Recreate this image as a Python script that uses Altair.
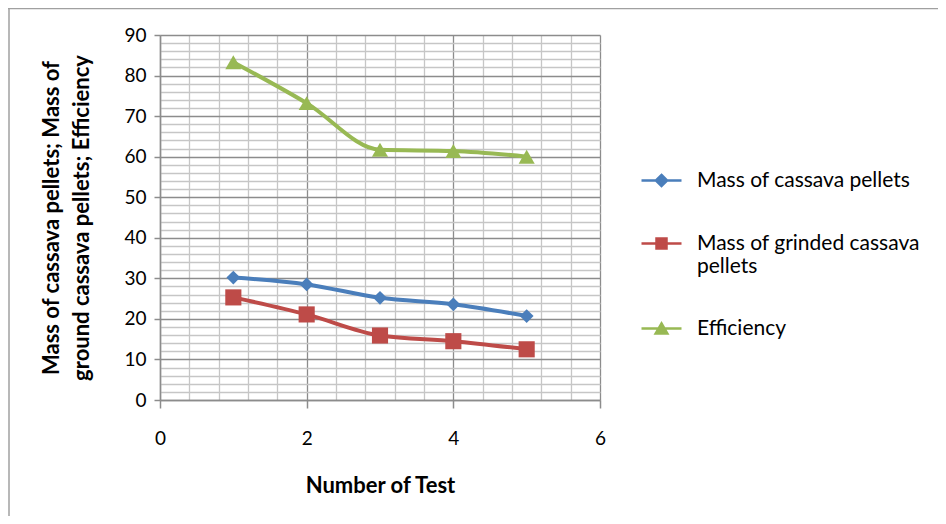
import altair as alt
import pandas as pd

# ---- data ----
tests = [1, 2, 3, 4, 5]
mass_pellets = [30.2, 28.5, 25.2, 23.6, 20.7]
mass_grinded = [25.3, 21.1, 15.9, 14.5, 12.5]
efficiency = [83.3, 73.2, 61.7, 61.4, 60.0]

series_names = ["Mass of cassava pellets", "Mass of grinded cassava pellets", "Efficiency"]
series_colors = ["#4A7EBB", "#BE4B48", "#98B954"]
marker_shapes = ["diamond", "square", "triangle-up"]
marker_sizes = [190, 260, 260]

x_ticks = [0, 0.4, 0.8, 1.2, 1.6, 2, 2.4, 2.8, 3.2, 3.6, 4, 4.4, 4.8, 5.2, 5.6, 6]
y_ticks = [0, 2, 4, 6, 8, 10, 12, 14, 16, 18, 20, 22, 24, 26, 28, 30, 32, 34, 36, 38,
           40, 42, 44, 46, 48, 50, 52, 54, 56, 58, 60, 62, 64, 66, 68, 70, 72, 74, 76,
           78, 80, 82, 84, 86, 88, 90]

# legend symbols: a line with the series marker on it
legend_paths = [
    "M-1,0H1M0,-0.28L0.28,0L0,0.28L-0.28,0Z",
    "M-1,0H1M-0.25,-0.25H0.25V0.25H-0.25Z",
    "M-1,0H1M0,-0.25L0.29,0.25H-0.29Z",
]

rows = []
for name, vals in zip(series_names, [mass_pellets, mass_grinded, efficiency]):
    for t, v in zip(tests, vals):
        rows.append({"test": t, "value": v, "series": name})
df = pd.DataFrame(rows)

FONT = "Lato"
MAJOR = "#8c8c8c"
MINOR = "#c6c6c6"
LABEL_EXPR = ("datum.label == 'Mass of grinded cassava pellets' ? "
              "['Mass of grinded  cassava', 'pellets'] : datum.label")

x_enc = alt.X(
    "test:Q",
    scale=alt.Scale(domain=[0, 6], nice=False, zero=False),
    axis=alt.Axis(
        values=x_ticks,
        tickCount=500,
        title="Number of Test",
        grid=True,
        gridColor={"condition": {"test": "datum.value % 2 === 0", "value": MAJOR}, "value": MINOR},
        tickColor={"condition": {"test": "datum.value % 2 === 0", "value": MAJOR}, "value": "transparent"},
        labelExpr="datum.value % 2 === 0 ? format(datum.value, 'd') : ''",
        labelOverlap=False,
        labelFlush=False,
        tickSize=8,
        labelPadding=21,
        titlePadding=27,
    ),
)
y_enc = alt.Y(
    "value:Q",
    scale=alt.Scale(domain=[0, 90], nice=False),
    axis=alt.Axis(
        values=y_ticks,
        tickCount=500,
        title=["Mass of cassava pellets;  Mass of", "ground cassava pellets;  Efficiency"],
        grid=True,
        gridColor={"condition": {"test": "datum.value % 10 === 0", "value": MAJOR}, "value": MINOR},
        tickColor={"condition": {"test": "datum.value % 10 === 0", "value": MAJOR}, "value": "transparent"},
        labelExpr="datum.value % 10 === 0 ? format(datum.value, 'd') : ''",
        labelOverlap=False,
        tickSize=6,
        labelPadding=8,
        titlePadding=30,
        titleLineHeight=30,
    ),
)

base = alt.Chart(df)

line_layers = []
marker_layers = []
for name, col, shp, sz in zip(series_names, series_colors, marker_shapes, marker_sizes):
    sub = base.transform_filter(alt.datum.series == name)
    line_layers.append(
        sub.mark_line(strokeWidth=4, interpolate="monotone", color=col).encode(x=x_enc, y=y_enc)
    )
    marker_layers.append(
        sub.mark_point(shape=shp, filled=True, opacity=1, size=sz, color=col).encode(x=x_enc, y=y_enc)
    )

leg = alt.Legend(title=None, labelExpr=LABEL_EXPR)
legend_layer = base.transform_filter("false").mark_point(filled=True, opacity=1).encode(
    x=x_enc,
    y=y_enc,
    stroke=alt.Stroke("series:N", scale=alt.Scale(domain=series_names, range=series_colors), legend=leg),
    fill=alt.Fill("series:N", scale=alt.Scale(domain=series_names, range=series_colors), legend=leg),
    shape=alt.Shape("series:N", scale=alt.Scale(domain=series_names, range=legend_paths), legend=leg),
)

frame_df = pd.DataFrame({"k": [0]})
frame_top = alt.Chart(frame_df).mark_rule(color="#a0a0a0", strokeWidth=1.5).encode(
    x=alt.value(-152), x2=alt.value(800), y=alt.value(-26.5)
)
frame_left = alt.Chart(frame_df).mark_rule(color="#a0a0a0", strokeWidth=1.5).encode(
    x=alt.value(-151), y=alt.value(-27), y2=alt.value(500)
)

chart = alt.layer(frame_top, frame_left, *line_layers, *marker_layers, legend_layer).properties(
    width=440,
    height=365,
    autosize=alt.AutoSizeParams(type="none"),
    padding={"left": 152, "top": 27, "right": 338, "bottom": 116},
).configure_view(stroke=None).configure_axis(
    labelFont=FONT,
    titleFont=FONT,
    labelFontSize=19,
    titleFontSize=22,
    titleFontWeight="bold",
    labelColor="#000000",
    titleColor="#000000",
    domainColor=MAJOR,
    domainWidth=1.5,
    gridWidth=1.3,
    tickWidth=1.5,
).configure_legend(
    orient="none",
    legendX=480,
    legendY=124,
    labelFont=FONT,
    labelFontSize=21,
    labelColor="#000000",
    symbolSize=1600,
    symbolStrokeWidth=2.5,
    symbolOpacity=1,
    symbolOffset=0,
    labelOffset=14,
    rowPadding=30,
    labelLimit=400,
)

chart.save("out.html", embed_options={"renderer": "svg", "actions": False})
